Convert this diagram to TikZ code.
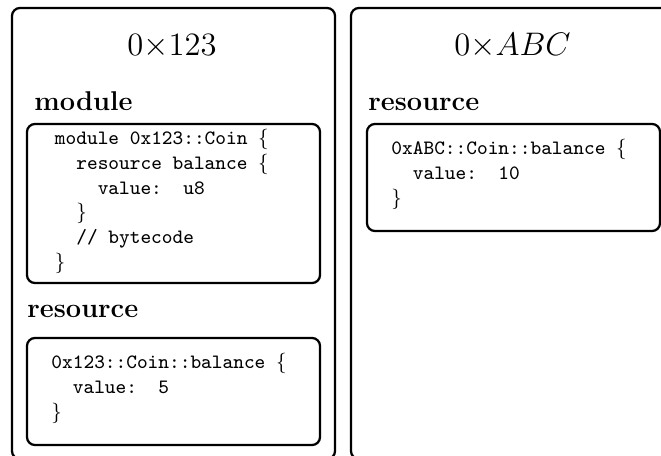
\documentclass[tikz,border=0pt]{standalone}
\newcommand\codeindent{\hphantom{xx}}
\begin{document}
\begin{tikzpicture}[x=0.4416pt,y=-0.4416pt,
  panel/.style={draw,line width=1pt,rounded corners=3.5pt},
  acctitle/.style={font=\Large,anchor=base,inner sep=0pt},
  heading/.style={font=\large\bfseries,anchor=base west,inner sep=0pt},
  code/.style={font=\small\ttfamily,align=left,anchor=north west,inner sep=0pt}]
\useasboundingbox (0,0) rectangle (661,455);
\clip (0,0) rectangle (661,455);

% account 0x123
\draw[panel] (12,8) rectangle (335,459);
\node[acctitle] (t1) at (172,55) {$0{\times}123$};
\node[heading] (hmod) at (34,110) {module};
\draw[panel] (27,124) rectangle (320,283);
\node[code] (modcode) at (54.5,128.5) {module 0x123::Coin $\{$\\
\codeindent resource balance $\{$\\
\codeindent\codeindent value:\ \ u8\\
\codeindent$\}$\\
\codeindent// bytecode\\
$\}$};
\node[heading] (hres1) at (27,317) {resource};
\draw[panel] (27,338) rectangle (320,445);
\node[code] (rescode1) at (51,352.7) {0x123::Coin::balance $\{$\\
\codeindent value:\ \ 5\\
$\}$};

% account 0xABC
\draw[panel] (351,8) rectangle (674,459);
\node[acctitle] (t2) at (512.5,55) {$0{\times}ABC$};
\node[heading] (hres2) at (368,110) {resource};
\draw[panel] (367,124) rectangle (660,231);
\node[code] (rescode2) at (391,139.2) {0xABC::Coin::balance $\{$\\
\codeindent value:\ \ 10\\
$\}$};
\end{tikzpicture}
\end{document}
